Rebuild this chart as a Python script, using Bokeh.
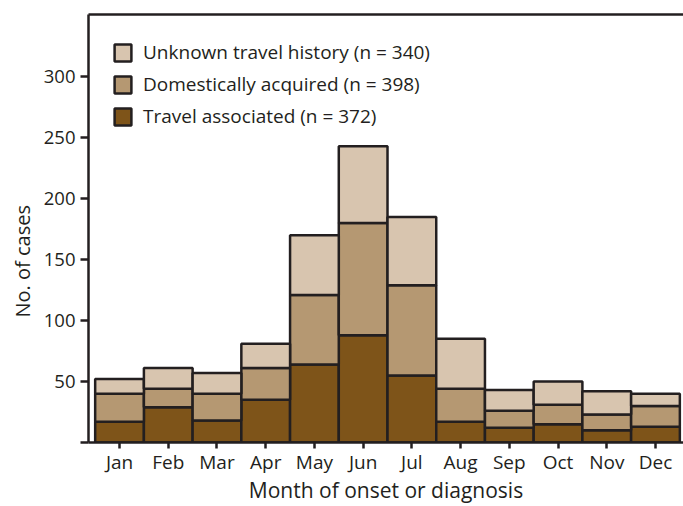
from bokeh.plotting import figure
from bokeh.models import Range1d, FixedTicker, Legend, LegendItem, Title, ColumnDataSource, LinearAxis
from bokeh.embed import file_html
from bokeh.resources import INLINE

months = ["Jan", "Feb", "Mar", "Apr", "May", "Jun", "Jul", "Aug", "Sep", "Oct", "Nov", "Dec"]
travel = [17, 29, 18, 35, 64, 88, 55, 17, 12, 15, 10, 13]
domestic = [23, 15, 22, 26, 57, 92, 74, 27, 14, 16, 13, 17]
unknown = [12, 17, 17, 20, 49, 63, 56, 41, 17, 19, 19, 10]
series_names = ["Travel associated (n = 372)", "Domestically acquired (n = 398)", "Unknown travel history (n = 340)"]
y_ticks = [0, 50, 100, 150, 200, 250, 300]

colors = ["#7E5419", "#B59872", "#D8C5AF"]
ink = "#231F20"
font = "Open Sans"

xs = [i + 0.5 for i in range(len(months))]
src = ColumnDataSource(dict(x=xs, travel=travel, domestic=domestic, unknown=unknown))

p = figure(width=683, height=506, output_backend="svg", toolbar_location=None,
           x_range=Range1d(-0.137, 12.075), y_range=Range1d(0, 351),
           min_border_left=88, min_border_right=0, min_border_top=14, min_border_bottom=64)

renderers = p.vbar_stack(["travel", "domestic", "unknown"], x="x", width=1.0, source=src,
                         fill_color=colors, line_color=ink, line_width=2.5)

p.grid.visible = False
p.outline_line_color = None
p.background_fill_color = "white"
p.border_fill_color = "white"

# top frame line only (no right border visible in the reference)
top_axis = LinearAxis(ticker=FixedTicker(ticks=[]), major_tick_line_color=None,
                      minor_tick_line_color=None, major_label_standoff=0,
                      axis_line_color=ink, axis_line_width=2.5)
p.add_layout(top_axis, "above")

xax = p.below[0]
yax = p.left[0]
xax.ticker = FixedTicker(ticks=xs)
xax.major_label_overrides = {x: m for x, m in zip(xs, months)}
yax.ticker = FixedTicker(ticks=y_ticks)
yax.major_label_overrides = {0: ""}

for ax in (xax, yax):
    ax.axis_line_color = ink
    ax.axis_line_width = 2.5
    ax.major_tick_line_color = ink
    ax.major_tick_line_width = 2.5
    ax.major_tick_in = 0
    ax.minor_tick_line_color = None
    ax.major_label_text_font = font
    ax.major_label_text_color = ink

xax.major_tick_out = 6
yax.major_tick_out = 8
xax.major_label_text_font_size = "19px"
yax.major_label_text_font_size = "18.5px"
xax.major_label_standoff = 0
yax.major_label_standoff = 5

xax.axis_label = "Month of onset or diagnosis"
xax.axis_label_text_font = font
xax.axis_label_text_font_size = "21px"
xax.axis_label_text_font_style = "normal"
xax.axis_label_text_color = ink
xax.axis_label_standoff = -2

ytitle = Title(text="No. of cases", align="left", offset=125, standoff=10,
               text_font=font, text_font_size="20px", text_font_style="normal",
               text_color=ink)
p.add_layout(ytitle, "left")

items = [LegendItem(label=series_names[i], renderers=[renderers[i]]) for i in (2, 1, 0)]
legend = Legend(items=items, location=(24, 313), orientation="vertical",
                glyph_width=21, glyph_height=21, spacing=6, padding=0, margin=0,
                label_standoff=10, label_text_font=font, label_text_font_size="19px",
                label_text_color=ink, border_line_color=None, background_fill_alpha=0)
p.add_layout(legend)

open("out.html", "w").write(file_html(p, INLINE))
